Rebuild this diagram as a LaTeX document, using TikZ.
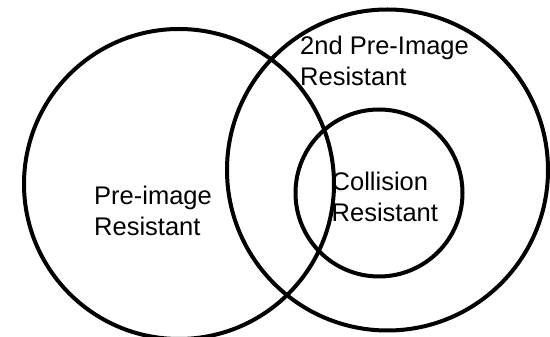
\documentclass[tikz,border=0pt]{standalone}
\usepackage{fontspec}
\setmainfont{Liberation Sans}

\tikzset{
    ring/.style={draw, circle, line width=4pt, inner sep=0pt},
    setlabel/.style={anchor=base west, inner sep=0pt, align=left,
        font=\fontsize{25.5}{31}\selectfont}
}

\begin{document}
\begin{tikzpicture}
    \useasboundingbox (0pt, 0pt) rectangle (550pt, 337pt);

    \node[ring, minimum size=310pt] (preimage) at (179pt, 153pt) {};
    \node[ring, minimum size=321pt] (second) at (387.5pt, 167pt) {};
    \node[ring, minimum size=167pt] (collision) at (379pt, 144pt) {};

    % anchor sits on the last line
    \node[setlabel] (preimagetext) at (94pt, 101pt) {Pre-image\\Resistant};
    \node[setlabel] (secondtext) at (300pt, 251pt) {2nd Pre-Image\\Resistant};
    \node[setlabel] (collisiontext) at (331.5pt, 115pt) {Collision\\Resistant};

\end{tikzpicture}
\end{document}
